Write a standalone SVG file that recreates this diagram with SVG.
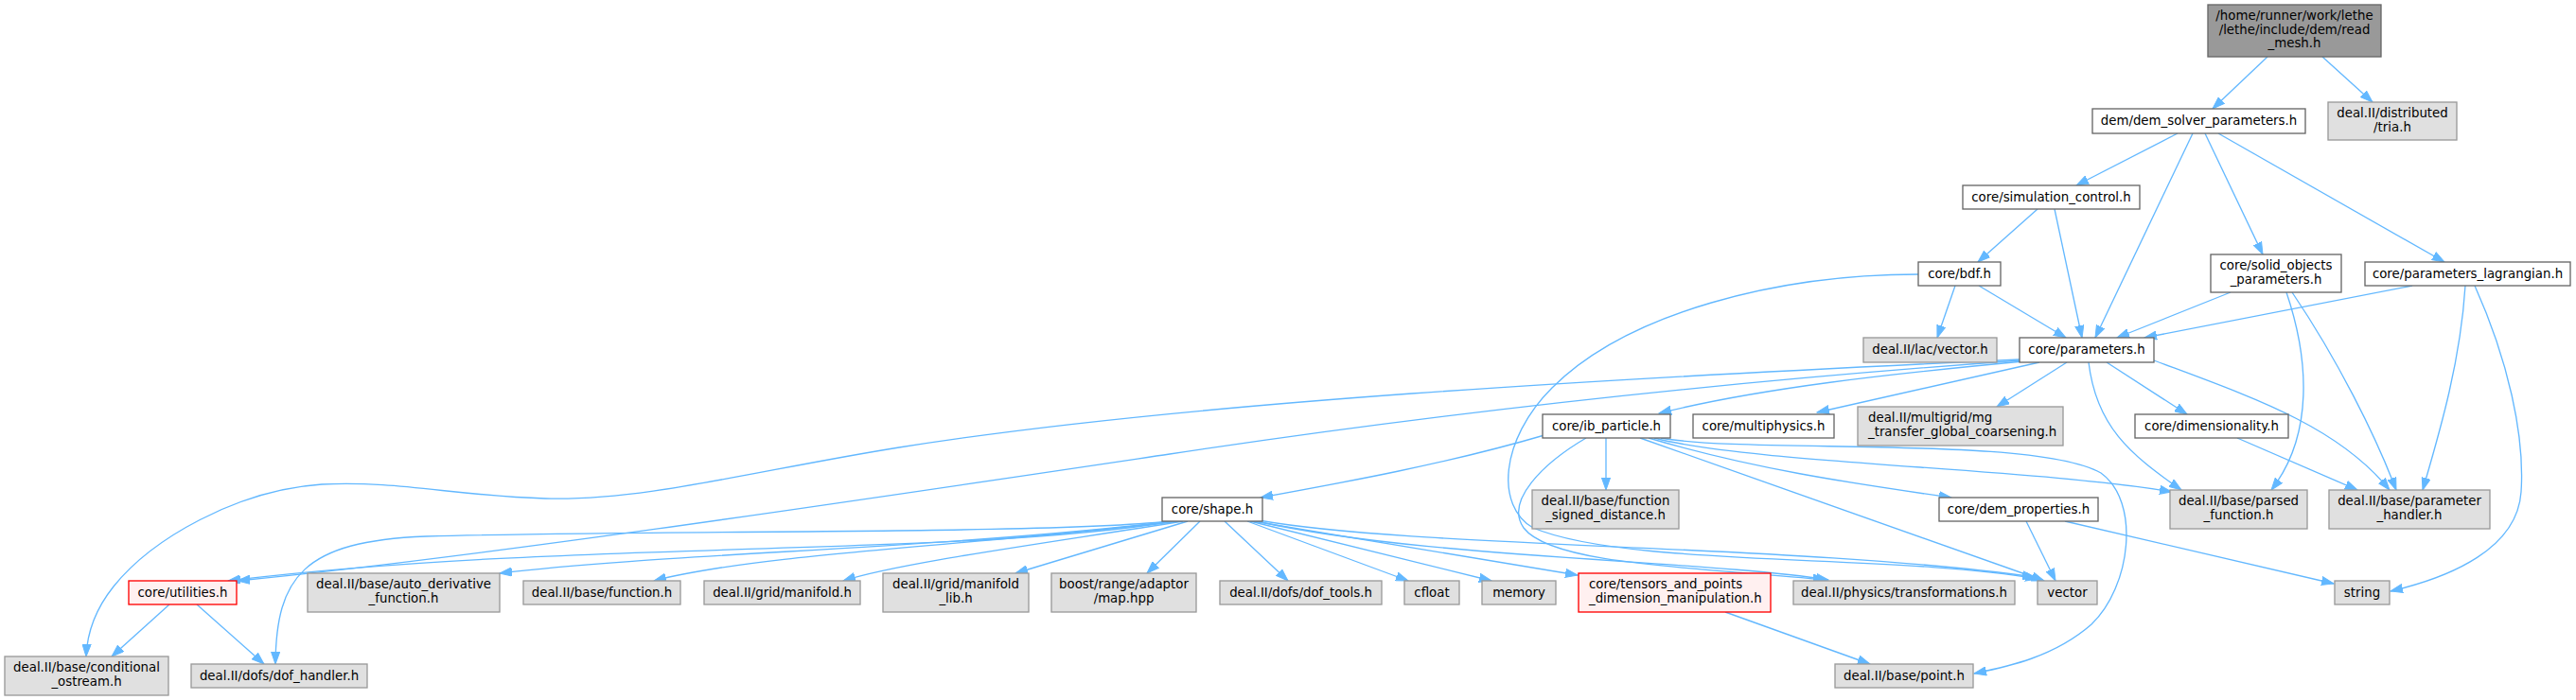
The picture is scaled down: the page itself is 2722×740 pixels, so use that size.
<svg xmlns="http://www.w3.org/2000/svg" width="2722" height="740" viewBox="0 0 2722 740">
<style>
.n{fill:#ffffff;stroke:#666666;stroke-width:1.33}
.g{fill:#e0e0e0;stroke:#999999;stroke-width:1.33}
.r{fill:#fff0f0;stroke:#ff0000;stroke-width:1.33}
.top{fill:#999999;stroke:#666666;stroke-width:1.33}
text{font-family:"DejaVu Sans","Liberation Sans",sans-serif;font-size:13.33px;fill:#000000;text-anchor:middle}
text.l{text-anchor:start}
#edges path{fill:none;stroke:#63b8ff;stroke-width:1.33;marker-end:url(#ah)}
</style>
<defs>
<marker id="ah" markerWidth="14" markerHeight="10" refX="13" refY="5" orient="auto" markerUnits="userSpaceOnUse">
<path d="M0,0.4 L13,5 L0,9.6 Z" fill="#63b8ff" stroke="#63b8ff" stroke-width="1"/>
</marker>
</defs>
<rect x="0" y="0" width="2722" height="740" fill="#ffffff"/>
<g id="edges">
<path d="M2396,60 L2338,115"/>
<path d="M2454,60 L2507,108"/>
<path d="M2301,141 L2194,196"/>
<path d="M2317,141 L2214,357"/>
<path d="M2330,141 L2391,269"/>
<path d="M2344,141 L2583,277"/>
<path d="M2153,221 L2090,277"/>
<path d="M2171,221 L2200,357"/>
<path d="M2066,302 L2047,357"/>
<path d="M2091,302 L2183,357"/>
<path d="M2027,290 C1880,290 1720,330 1640,410 C1585,465 1580,535 1620,558 C1720,600 2000,585 2153,612"/>
<path d="M2357,309 L2237,357"/>
<path d="M2416,309 C2440,380 2445,460 2400,518"/>
<path d="M2422,309 C2470,380 2510,460 2532,518"/>
<path d="M2549,302 L2266,357"/>
<path d="M2605,302 C2600,380 2580,450 2560,518"/>
<path d="M2615,302 C2650,380 2668,460 2664,520 C2660,580 2590,610 2526,625"/>
<path d="M2134,380 C1700,400 1250,425 950,473 C800,497 680,530 576,527 C480,524 420,508 340,512 C250,518 160,570 120,620 C100,645 92,670 91,694"/>
<path d="M2136,381 C1800,405 1500,440 1236,480 C900,530 500,590 251,614"/>
<path d="M2138,382 C2000,395 1860,410 1753,437"/>
<path d="M2155,383 L1920,436"/>
<path d="M2184,383 L2110,430"/>
<path d="M2226,383 L2311,438"/>
<path d="M2207,383 C2215,450 2250,480 2305,518"/>
<path d="M2276,381 C2380,420 2470,450 2525,518"/>
<path d="M2364,463 L2491,518"/>
<path d="M1632,460 C1530,490 1420,510 1332,526"/>
<path d="M1697,463 L1697,518"/>
<path d="M1742,463 C1850,495 1950,510 2062,526"/>
<path d="M1733,463 L2160,614"/>
<path d="M1748,463 C1850,490 2150,495 2295,520"/>
<path d="M1755,463 C1850,480 2150,460 2220,500 C2262,530 2252,620 2210,660 C2170,695 2120,705 2086,712"/>
<path d="M1676,463 C1630,490 1590,530 1610,558 C1640,598 1800,600 1929,613"/>
<path d="M2141,551 L2172,614"/>
<path d="M2182,551 L2466,617"/>
<path d="M1242,551 C1000,590 600,570 241,614"/>
<path d="M1236,551 C1100,565 700,560 450,567 C320,572 292,610 291,702"/>
<path d="M1240,551 C1000,580 700,585 528,606"/>
<path d="M1245,551 C1050,575 800,585 691,614"/>
<path d="M1250,551 C1100,575 950,595 891,614"/>
<path d="M1255,551 L1073,606"/>
<path d="M1268,551 L1212,606"/>
<path d="M1294,551 L1361,614"/>
<path d="M1318,551 L1488,614"/>
<path d="M1321,551 L1576,614"/>
<path d="M1324,551 L1667,608"/>
<path d="M1328,551 C1500,590 1800,592 1932,613"/>
<path d="M1330,550 C1500,580 1900,575 2150,610"/>
<path d="M1823,647 L1976,702"/>
<path d="M179,639 L118,694"/>
<path d="M208,639 L279,702"/>
</g>
<g id="read_mesh"><rect class="top" x="2333" y="5" width="183" height="55"/><text x="2424.5" y="21">/home/runner/work/lethe</text><text x="2424.5" y="35.7">/lethe/include/dem/read</text><text x="2424.5" y="50.3">_mesh.h</text></g>
<g id="dem_solver_parameters"><rect class="n" x="2211" y="115" width="225" height="26"/><text x="2323.5" y="131.5">dem/dem_solver_parameters.h</text></g>
<g id="tria"><rect class="g" x="2460" y="108" width="136" height="40"/><text x="2528" y="124">deal.II/distributed</text><text x="2528" y="138.5">/tria.h</text></g>
<g id="simulation_control"><rect class="n" x="2074" y="196" width="187" height="25"/><text x="2167.5" y="212.5">core/simulation_control.h</text></g>
<g id="bdf"><rect class="n" x="2027" y="277" width="87" height="25"/><text x="2070.5" y="293.5">core/bdf.h</text></g>
<g id="solid_objects_parameters"><rect class="n" x="2336" y="269" width="138" height="40"/><text x="2405" y="285">core/solid_objects</text><text x="2405" y="299.5">_parameters.h</text></g>
<g id="parameters_lagrangian"><rect class="n" x="2499" y="277" width="217" height="25"/><text x="2607.5" y="293.5">core/parameters_lagrangian.h</text></g>
<g id="lac_vector"><rect class="g" x="1969" y="357" width="141" height="26"/><text x="2039.5" y="373.5">deal.II/lac/vector.h</text></g>
<g id="parameters"><rect class="n" x="2134" y="357" width="142" height="26"/><text x="2205" y="373.5">core/parameters.h</text></g>
<g id="ib_particle"><rect class="n" x="1630" y="438" width="135" height="25"/><text x="1697.5" y="454.5">core/ib_particle.h</text></g>
<g id="multiphysics"><rect class="n" x="1789" y="438" width="149" height="25"/><text x="1863.5" y="454.5">core/multiphysics.h</text></g>
<g id="mg_transfer"><rect class="g" x="1963" y="430" width="217" height="41"/><text class="l" x="1974" y="446">deal.II/multigrid/mg</text><text class="l" x="1974" y="460.5">_transfer_global_coarsening.h</text></g>
<g id="dimensionality"><rect class="n" x="2256" y="438" width="162" height="25"/><text x="2337" y="454.5">core/dimensionality.h</text></g>
<g id="shape"><rect class="n" x="1228" y="526" width="106" height="25"/><text x="1281" y="542.5">core/shape.h</text></g>
<g id="function_signed_distance"><rect class="g" x="1619" y="518" width="155" height="41"/><text x="1696.5" y="534">deal.II/base/function</text><text x="1696.5" y="548.5">_signed_distance.h</text></g>
<g id="dem_properties"><rect class="n" x="2049" y="526" width="168" height="25"/><text x="2133" y="542.5">core/dem_properties.h</text></g>
<g id="parsed_function"><rect class="g" x="2293" y="518" width="145" height="41"/><text x="2365.5" y="534">deal.II/base/parsed</text><text x="2365.5" y="548.5">_function.h</text></g>
<g id="parameter_handler"><rect class="g" x="2461" y="518" width="170" height="41"/><text x="2546" y="534">deal.II/base/parameter</text><text x="2546" y="548.5">_handler.h</text></g>
<g id="utilities"><rect class="r" x="136" y="614" width="114" height="25"/><text x="193" y="630.5">core/utilities.h</text></g>
<g id="auto_derivative_function"><rect class="g" x="325" y="606" width="203" height="41"/><text x="426.5" y="622">deal.II/base/auto_derivative</text><text x="426.5" y="636.5">_function.h</text></g>
<g id="function"><rect class="g" x="553" y="614" width="166" height="25"/><text x="636" y="630.5">deal.II/base/function.h</text></g>
<g id="manifold"><rect class="g" x="744" y="614" width="165" height="25"/><text x="826.5" y="630.5">deal.II/grid/manifold.h</text></g>
<g id="manifold_lib"><rect class="g" x="933" y="606" width="154" height="41"/><text x="1010" y="622">deal.II/grid/manifold</text><text x="1010" y="636.5">_lib.h</text></g>
<g id="map"><rect class="g" x="1111" y="606" width="153" height="41"/><text x="1187.5" y="622">boost/range/adaptor</text><text x="1187.5" y="636.5">/map.hpp</text></g>
<g id="dof_tools"><rect class="g" x="1289" y="614" width="171" height="25"/><text x="1374.5" y="630.5">deal.II/dofs/dof_tools.h</text></g>
<g id="cfloat"><rect class="g" x="1484" y="614" width="58" height="25"/><text x="1513" y="630.5">cfloat</text></g>
<g id="memory"><rect class="g" x="1566" y="614" width="78" height="25"/><text x="1605" y="630.5">memory</text></g>
<g id="tensors"><rect class="r" x="1668" y="606" width="203" height="41"/><text class="l" x="1679" y="622">core/tensors_and_points</text><text class="l" x="1679" y="636.5">_dimension_manipulation.h</text></g>
<g id="transformations"><rect class="g" x="1895" y="614" width="234" height="25"/><text x="2012" y="630.5">deal.II/physics/transformations.h</text></g>
<g id="vector"><rect class="g" x="2153" y="614" width="63" height="25"/><text x="2184.5" y="630.5">vector</text></g>
<g id="string"><rect class="g" x="2467" y="614" width="58" height="25"/><text x="2496" y="630.5">string</text></g>
<g id="conditional_ostream"><rect class="g" x="5" y="694" width="173" height="41"/><text x="91.5" y="710">deal.II/base/conditional</text><text x="91.5" y="724.5">_ostream.h</text></g>
<g id="dof_handler"><rect class="g" x="202" y="702" width="186" height="25"/><text x="295" y="718.5">deal.II/dofs/dof_handler.h</text></g>
<g id="point"><rect class="g" x="1939" y="702" width="146" height="25"/><text x="2012" y="718.5">deal.II/base/point.h</text></g>
</svg>
